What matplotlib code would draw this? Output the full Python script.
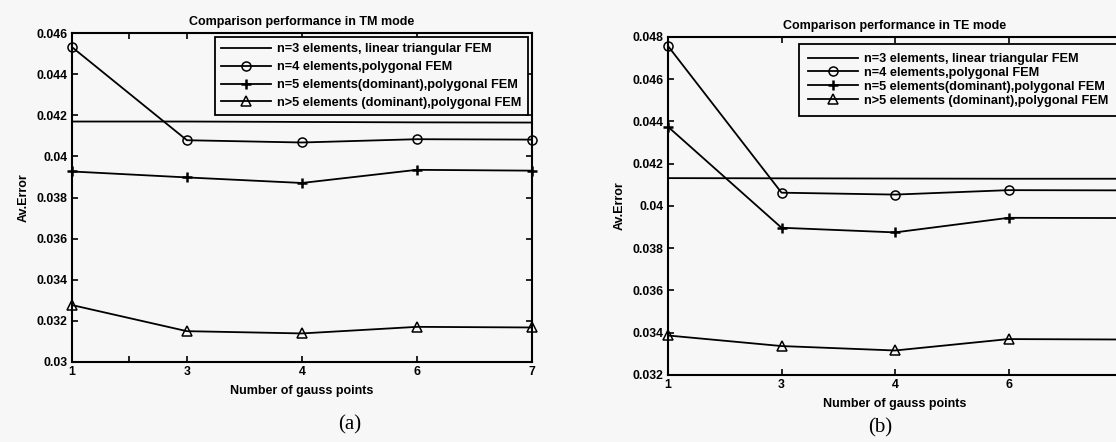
import matplotlib
matplotlib.use("Agg")
import matplotlib.pyplot as plt
from matplotlib.ticker import FixedLocator

plt.rcParams['font.family'] = ['Liberation Sans', 'DejaVu Sans']

gauss_points = ['1', '3', '4', '6', '7']
legend_labels = ['n=3 elements, linear triangular FEM',
                 'n=4 elements,polygonal FEM',
                 'n=5 elements(dominant),polygonal FEM',
                 'n>5 elements (dominant),polygonal FEM']

# TM mode
tm_n3 = [0.04170, 0.04170, 0.04168, 0.04166, 0.04165]
tm_n4 = [0.04532, 0.04079, 0.04068, 0.04084, 0.04082]
tm_n5 = [0.03927, 0.03898, 0.03871, 0.03935, 0.03931]
tm_n6 = [0.03277, 0.03150, 0.03139, 0.03171, 0.03168]
tm_yticks = [0.03, 0.032, 0.034, 0.036, 0.038, 0.04, 0.042, 0.044, 0.046]

# TE mode
te_n3 = [0.04132, 0.04131, 0.04130, 0.04129, 0.04129]
te_n4 = [0.04757, 0.04063, 0.04054, 0.04075, 0.04074]
te_n5 = [0.04375, 0.03897, 0.03875, 0.03944, 0.03943]
te_n6 = [0.03387, 0.03337, 0.03316, 0.03370, 0.03368]
te_yticks = [0.032, 0.034, 0.036, 0.038, 0.04, 0.042, 0.044, 0.046, 0.048]

bg = '#f7f7f7'
fig = plt.figure(figsize=(11.16, 4.42), dpi=100, facecolor=bg)


def fmt(v):
    return ('%.3f' % v).rstrip('0')


def panel(rect, series, yticks, title, tag, tag_x, tag_y, leg_anchor, leg_size,
          leg_spacing, leg_pad, minor=None, hide_last=False):
    ax = fig.add_axes(rect, facecolor=bg)
    x = list(range(len(gauss_points)))
    styles = [dict(marker=None),
              dict(marker='o', markersize=6.5, markerfacecolor='none', markeredgewidth=1.1),
              dict(marker='+', markersize=7, markeredgewidth=1.8),
              dict(marker='^', markersize=6.5, markerfacecolor='none', markeredgewidth=1.1)]
    for vals, lab, st in zip(series, legend_labels, styles):
        ax.plot(x, vals, color='black', lw=1.3, label=lab, clip_on=False, **st)
    ax.set_xlim(0, len(gauss_points) - 1)
    ax.set_ylim(yticks[0], yticks[-1])
    ax.set_xticks(x)
    labels = list(gauss_points)
    if hide_last:
        # the last label falls outside the cropped picture
        labels[-1] = ''
    ax.set_xticklabels(labels)
    if minor is not None:
        ax.xaxis.set_minor_locator(FixedLocator(minor))
    ax.set_yticks(yticks)
    ax.set_yticklabels([fmt(v) for v in yticks])
    ax.tick_params(direction='in', top=True, right=True, length=4, width=1.2,
                   labelsize=8.8, pad=3)
    ax.tick_params(which='minor', direction='in', top=True, length=4, width=1.2)
    for lbl in ax.get_xticklabels() + ax.get_yticklabels():
        lbl.set_fontweight('bold')
    for s in ax.spines.values():
        s.set_linewidth(1.5)
    ax.set_title(title, fontsize=9, fontweight='bold', pad=6)
    ax.set_xlabel('Number of gauss points', fontsize=9, fontweight='bold', labelpad=5)
    ax.set_ylabel('Av.Error', fontsize=9, fontweight='bold', labelpad=5)
    leg = ax.legend(loc='upper right', bbox_to_anchor=leg_anchor, borderaxespad=0,
                    fancybox=False, framealpha=1, facecolor=bg, edgecolor='black',
                    prop=dict(size=leg_size, weight='bold'), handlelength=3.9,
                    labelspacing=leg_spacing, borderpad=leg_pad, handletextpad=0.45)
    leg.get_frame().set_linewidth(1.3)
    fig.text(tag_x, tag_y, tag, family='Liberation Serif', fontsize=15,
             ha='center', va='center')
    return ax


panel([0.0645, 0.181, 0.412, 0.744], [tm_n3, tm_n4, tm_n5, tm_n6], tm_yticks,
      'Comparison performance in TM mode', '(a)', 350 / 1116, 1 - 425 / 442,
      (0.991, 0.988), 9.2, 0.45, 0.5, minor=[0.5])
panel([0.5986, 0.1516, 0.4068, 0.7647], [te_n3, te_n4, te_n5, te_n6], te_yticks,
      'Comparison performance in TE mode', '(b)', 880 / 1116, 1 - 428 / 442,
      (0.989, 0.979), 9.2, 0.15, 0.7, hide_last=True)

fig.savefig('out.png', dpi=100, facecolor=bg)
